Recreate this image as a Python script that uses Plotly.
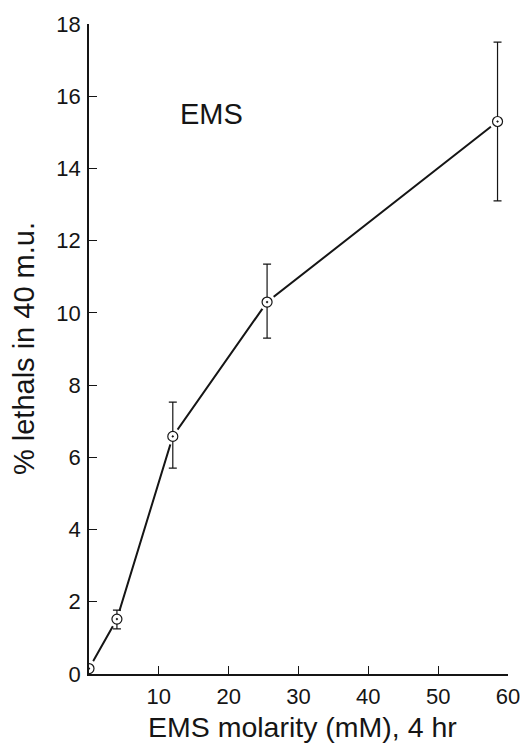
import plotly.graph_objects as go

# Data
ems_mM = [0.0, 4.0, 12.0, 25.5, 58.5]
lethals_pct = [0.15, 1.52, 6.58, 10.3, 15.3]
err_plus = [0.0, 0.25, 0.95, 1.05, 2.2]
err_minus = [0.0, 0.27, 0.88, 1.0, 2.2]
x_ticks = [10, 20, 30, 40, 50, 60]
y_ticks = [0, 2, 4, 6, 8, 10, 12, 14, 16, 18]

INK = "#151515"
FONT = "Liberation Sans, Arial, Helvetica, sans-serif"

fig = go.Figure()

# connecting line
fig.add_trace(go.Scatter(
    x=ems_mM, y=lethals_pct, mode="lines",
    line=dict(color=INK, width=2), hoverinfo="skip", showlegend=False))

# white halos to break the line near the points
fig.add_trace(go.Scatter(
    x=ems_mM, y=lethals_pct, mode="markers",
    marker=dict(symbol="circle", size=17, color="white", line=dict(width=0)),
    hoverinfo="skip", showlegend=False))

# points with error bars
fig.add_trace(go.Scatter(
    x=ems_mM, y=lethals_pct, mode="markers",
    marker=dict(symbol="circle-dot", size=10, color="white",
                line=dict(color=INK, width=1.2)),
    error_y=dict(type="data", array=err_plus, arrayminus=err_minus,
                 visible=True, color=INK, thickness=1.2, width=4),
    showlegend=False))

fig.update_xaxes(
    range=[0, 60], tickvals=x_ticks, ticktext=[str(v) for v in x_ticks],
    ticks="inside", ticklen=8, tickwidth=1.3, tickcolor=INK,
    showline=True, linecolor=INK, linewidth=1.5,
    showgrid=False, zeroline=False, mirror=False, ticklabelstandoff=2,
    tickfont=dict(family=FONT, size=22, color=INK))

fig.update_yaxes(
    range=[0, 18], tickvals=y_ticks, ticktext=[str(v) for v in y_ticks],
    ticks="inside", ticklen=8, tickwidth=1.3, tickcolor=INK,
    showline=True, linecolor=INK, linewidth=1.5,
    showgrid=False, zeroline=False, mirror=False, ticklabelstandoff=2,
    tickfont=dict(family=FONT, size=22, color=INK))

fig.update_layout(
    width=532, height=745,
    margin=dict(l=89, r=15, t=20, b=71),
    paper_bgcolor="white", plot_bgcolor="white",
    font=dict(family=FONT, color=INK),
    annotations=[
        dict(text="EMS", x=17.5, y=15.5, xref="x", yref="y",
             showarrow=False, font=dict(family=FONT, size=29, color=INK)),
        dict(text="EMS molarity (mM), 4 hr", x=0.51, y=-0.081,
             xref="paper", yref="paper", xanchor="center", yanchor="middle",
             showarrow=False, font=dict(family=FONT, size=28.5, color=INK)),
        dict(text="% lethals in 40 m.u.", x=-0.155, y=0.5,
             xref="paper", yref="paper", xanchor="center", yanchor="middle",
             textangle=-90, showarrow=False,
             font=dict(family=FONT, size=29, color=INK)),
    ],
)

fig.write_html(
    "out.html",
    config={"displayModeBar": False},
    post_script="document.body.style.margin='0';"
                "document.documentElement.style.overflow='hidden';")
